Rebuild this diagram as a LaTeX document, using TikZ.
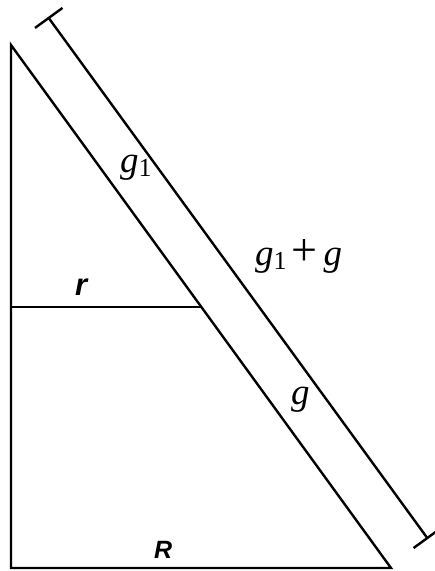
\documentclass[tikz,border=0pt]{standalone}
\usepackage{fontspec}
\setmainfont{Liberation Serif}
\newfontfamily\sidefont{Liberation Sans}
\usetikzlibrary{arrows.meta}

\tikzset{
  glabel/.style={font=\fontsize{37}{42}\selectfont,inner sep=0pt},
  sidelabel/.style={font=\sidefont\fontsize{#1}{#1}\selectfont\bfseries\itshape,
    inner sep=0pt}
}
\newcommand{\gsub}{\textit{g}\raisebox{-4pt}{\fontsize{26}{26}\selectfont 1}}

\begin{document}
\begin{tikzpicture}[x=1pt,y=-1pt,line width=2.4pt]
    \useasboundingbox (0,0) rectangle (435,571);
    % triangle
    \coordinate (apex) at (11,45);
    \coordinate (corner) at (11,568);
    \coordinate (foot) at (391,568);
    \coordinate (rleft) at (11,307);
    \coordinate (rright) at (201,307);
    \draw (apex) -- (corner) -- (foot) -- cycle;
    \draw (rleft) -- (rright);

    % length g1+g
    \coordinate (lenstart) at (48,17);
    \coordinate (lenend) at (428,539);
    \draw[{Bar[width=34pt]}-{Bar[width=34pt]}] (lenstart) -- (lenend);

    \node[glabel,anchor=base west] (gone) at (119,172) {\gsub};
    \node[glabel,anchor=base west] (gsum) at (254,265)
      {\gsub\hspace{5pt}{\fontsize{46}{46}\selectfont+}\hspace{6pt}\textit{g}};
    \node[glabel,anchor=base west] (gtwo) at (290,404) {\textit{g}};
    \node[sidelabel=31,anchor=base west] (rsmall) at (74,295) {r};
    \node[sidelabel=25,anchor=base west] (Rbig) at (153,558) {R};
\end{tikzpicture}
\end{document}
